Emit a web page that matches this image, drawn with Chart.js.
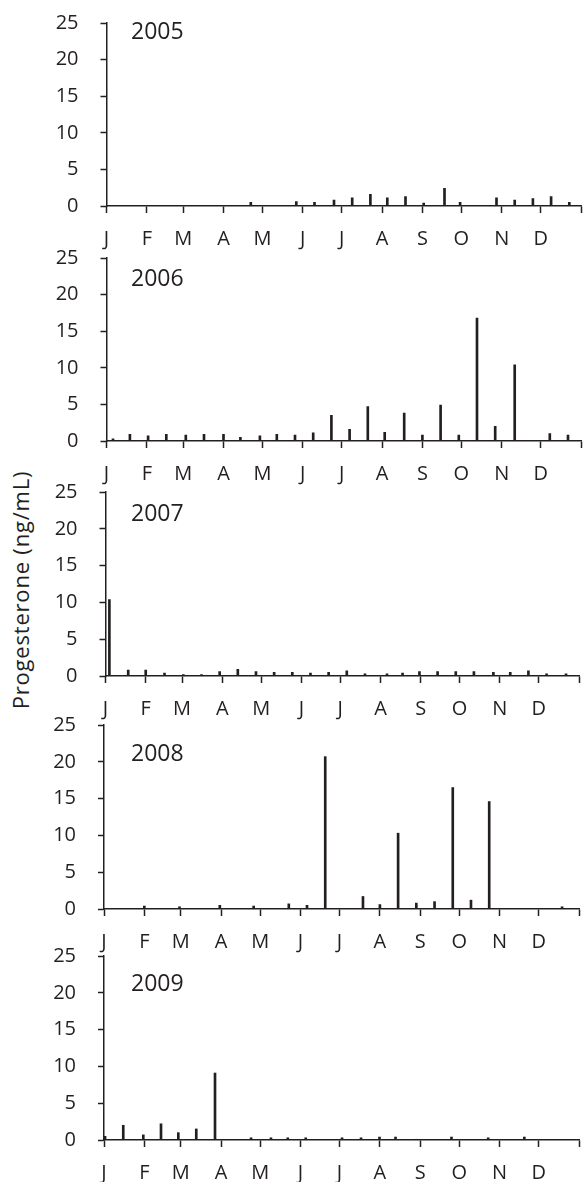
<!DOCTYPE html>
<html><head><meta charset="utf-8">
<script src="https://cdn.jsdelivr.net/npm/chart.js@4"></script>
<style>
body{margin:0;background:#fff;width:584px;height:1182px;position:relative;overflow:hidden;font-family:'Open Sans',sans-serif;color:#231f20}
canvas{position:absolute;left:0}
.yr{position:absolute;font-size:23px;line-height:1;white-space:nowrap}
#ytitle{position:absolute;left:-130px;top:578px;width:300px;height:24px;text-align:center;font-size:22px;letter-spacing:0.8px;line-height:24px;transform:rotate(-90deg);white-space:nowrap}
</style></head><body>
<div id="ytitle">Progesterone (ng/mL)</div>
<script>
const years = ['2005','2006','2007','2008','2009'];
const monthLabels = ['J','F','M','A','M','J','J','A','S','O','N','D'];
const monthStarts = [0,31,59,90,120,151,181,212,243,273,304,334,365];
const yTicks = [0,5,10,15,20,25];

const days2005 = [111,146,160,175,189,203,216,230,244,260,272,300,314,328,342,356];
const prog2005 = [0.5,0.6,0.5,0.8,1.1,1.6,1.1,1.3,0.4,2.4,0.5,1.1,0.8,1.0,1.3,0.5];

const days2006 = [5,18,32,46,61,75,90,103,118,131,145,159,173,187,201,214,229,243,257,271,285,299,314,341,355];
const prog2006 = [0.3,0.9,0.7,0.9,0.8,0.9,0.9,0.5,0.7,0.9,0.8,1.1,3.5,1.6,4.7,1.2,3.8,0.8,4.9,0.8,16.8,2.0,10.4,1.0,0.8];

const days2007 = [3,17.5,31,45.5,60,74,88,102,116,130,144,158,172,186,200,217,229,242,256,270,284,299,312,326,340,355];
const prog2007 = [10.4,0.8,0.8,0.4,0.2,0.2,0.6,0.9,0.6,0.5,0.5,0.4,0.5,0.7,0.3,0.3,0.4,0.6,0.6,0.6,0.6,0.5,0.5,0.7,0.3,0.3];

const days2008 = [31,58,89,115,142,156,170,199,212,226,240,254,268,282,296,352];
const prog2008 = [0.4,0.3,0.5,0.4,0.7,0.5,20.7,1.7,0.6,10.3,0.8,1.0,16.5,1.2,14.6,0.3];

const days2009 = [0.8,14.8,30.2,43.8,57.1,70.9,85.3,113,128.3,141.2,155,182.9,197.5,211.7,224,240,267,295.2,323];
const prog2009 = [0.5,2.0,0.7,2.2,1.0,1.5,9.1,0.3,0.3,0.3,0.3,0.3,0.3,0.4,0.4,0.1,0.4,0.3,0.4];

const seriesDays = [days2005, days2006, days2007, days2008, days2009];
const seriesVals = [prog2005, prog2006, prog2007, prog2008, prog2009];

// layout (pixels) for each panel
const panelLayout = [
  {top:23, bottom:206, left:106.5, right:581, labelTop:23},
  {top:258, bottom:441, left:106.5, right:581, labelTop:270},
  {top:492, bottom:676, left:105.5, right:579, labelTop:505},
  {top:725, bottom:909, left:104, right:579, labelTop:745},
  {top:956, bottom:1140, left:104, right:579, labelTop:975}
];

const ink = '#231f20';
const fontSpec = {family:'Open Sans', size:20};

years.forEach((yr, i) => {
  const L = panelLayout[i];
  const padTop = 20, xH = 50;
  const plotH = L.bottom - L.top;
  const H = padTop + plotH + xH;
  const cv = document.createElement('canvas');
  cv.width = 584; cv.height = H;
  cv.style.width = '584px'; cv.style.height = H + 'px';
  cv.style.top = (L.top - padTop) + 'px';
  document.body.appendChild(cv);

  const lab = document.createElement('div');
  lab.className = 'yr';
  lab.textContent = yr;
  lab.style.left = '131px';
  lab.style.top = (L.labelTop - 4) + 'px';
  document.body.appendChild(lab);

  const days = seriesDays[i], vals = seriesVals[i];
  new Chart(cv, {
    type: 'bar',
    data: {datasets: [{
      data: days.map((d, j) => ({x: d, y: vals[j]})),
      backgroundColor: ink, borderWidth: 0, barThickness: 2
    }]},
    options: {
      responsive: false, animation: false, devicePixelRatio: 1,
      layout: {padding: {top: padTop, left: 0, right: 584 - L.right, bottom: 0}},
      plugins: {legend: {display: false}, tooltip: {enabled: false}},
      scales: {
        x: {
          type: 'linear', min: 0, max: 365, offset: false,
          afterBuildTicks: s => { s.ticks = monthStarts.map(v => ({value: v})); },
          afterFit: s => { s.height = xH; s.paddingLeft = 0; s.paddingRight = 0; },
          grid: {display: true, drawOnChartArea: false, drawTicks: true, tickLength: 7, tickWidth: 1.5, tickColor: ink, offset: false},
          border: {display: true, color: ink, width: 1.5},
          ticks: {autoSkip: false, maxRotation: 0, minRotation: 0, padding: 14, color: ink, font: fontSpec,
                  callback: (v, idx) => monthLabels[idx] || ''}
        },
        y: {
          min: 0, max: 25,
          afterBuildTicks: s => { s.ticks = yTicks.map(v => ({value: v})); },
          afterFit: s => { s.width = L.left; s.paddingTop = 0; s.paddingBottom = 0; },
          grid: {drawOnChartArea: false, drawTicks: true, tickLength: 6, tickWidth: 1.5, tickColor: ink},
          border: {display: true, color: ink, width: 1.5},
          ticks: {padding: 22, color: ink, font: fontSpec}
        }
      }
    }
  });
});
</script>
</body></html>
